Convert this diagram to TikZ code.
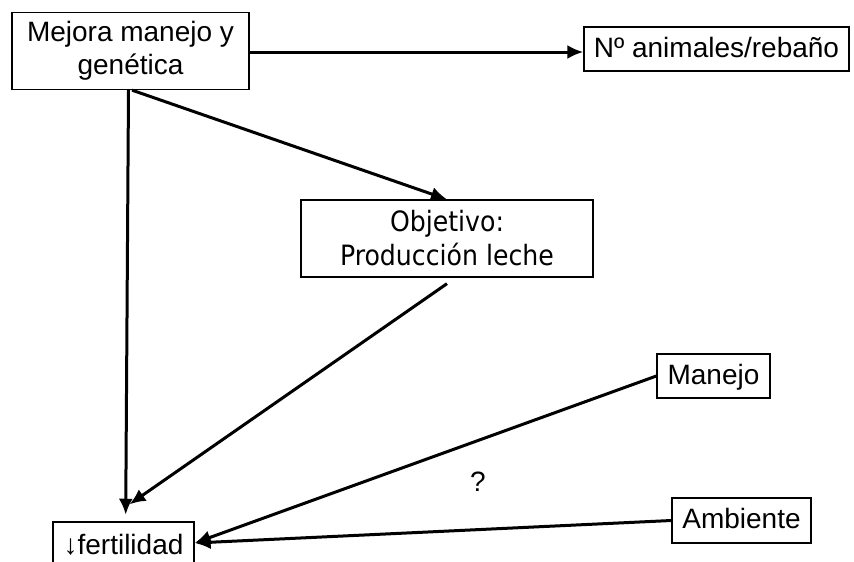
\documentclass[tikz,border=0pt]{standalone}
\usepackage{fontspec}
\setmainfont{Liberation Sans}
\newfontfamily\objfont{DejaVu Sans Condensed}
\usetikzlibrary{arrows.meta}
\begin{document}
\begin{tikzpicture}[x=1pt,y=-1pt,
  box/.style={draw=black,line width=1.3pt,fill=white,inner sep=0pt,align=center,font=\fontsize{28}{33}\selectfont},
  one/.style={text height=20pt,text depth=4pt},
  conn/.style={line width=3pt,-{Latex[length=16pt,width=14pt]}}]
\useasboundingbox (0,0) rectangle (854,562);
\fill[white] (0,0) rectangle (854,562);
\node[box,minimum width=237pt,minimum height=77pt] (b1) at (130.5,51) {Mejora manejo y\\genética};
\node[box,one,minimum width=265pt,minimum height=44pt] (b2) at (716.5,49) {Nº animales/rebaño};
\node[box,minimum width=292pt,minimum height=77pt,font=\objfont\fontsize{28}{34}\selectfont] (b3) at (447,238.5) {Objetivo:\\Producción leche};
\node[box,one,minimum width=113pt,minimum height=44pt] (man) at (713.5,376) {Manejo};
\node[box,one,minimum width=139pt,minimum height=45pt] (amb) at (741.5,520.5) {Ambiente};
\node[box,one,minimum width=141pt,minimum height=48pt] (fert) at (123.5,546) {↓fertilidad};
\node[font=\fontsize{28}{33}\selectfont] (q) at (478,482) {?};
\draw[conn] ([yshift=-1pt]b1.east) -- ([yshift=-1pt]b1.east -| b2.west);
\draw[conn] ([xshift=-2pt]b1.south) -- ([xshift=2.2pt,yshift=6.6pt]fert.north);
\draw[conn] ([xshift=1.5pt]b1.south) -- (b3.north);
\draw[conn] ([yshift=-6pt]b3.south) -- ([xshift=6pt,yshift=17pt]fert.north);
\draw[conn] (man.west) -- ([yshift=3pt]fert.east);
\draw[conn] (amb.west) -- ([yshift=3pt]fert.east);
\end{tikzpicture}
\end{document}
